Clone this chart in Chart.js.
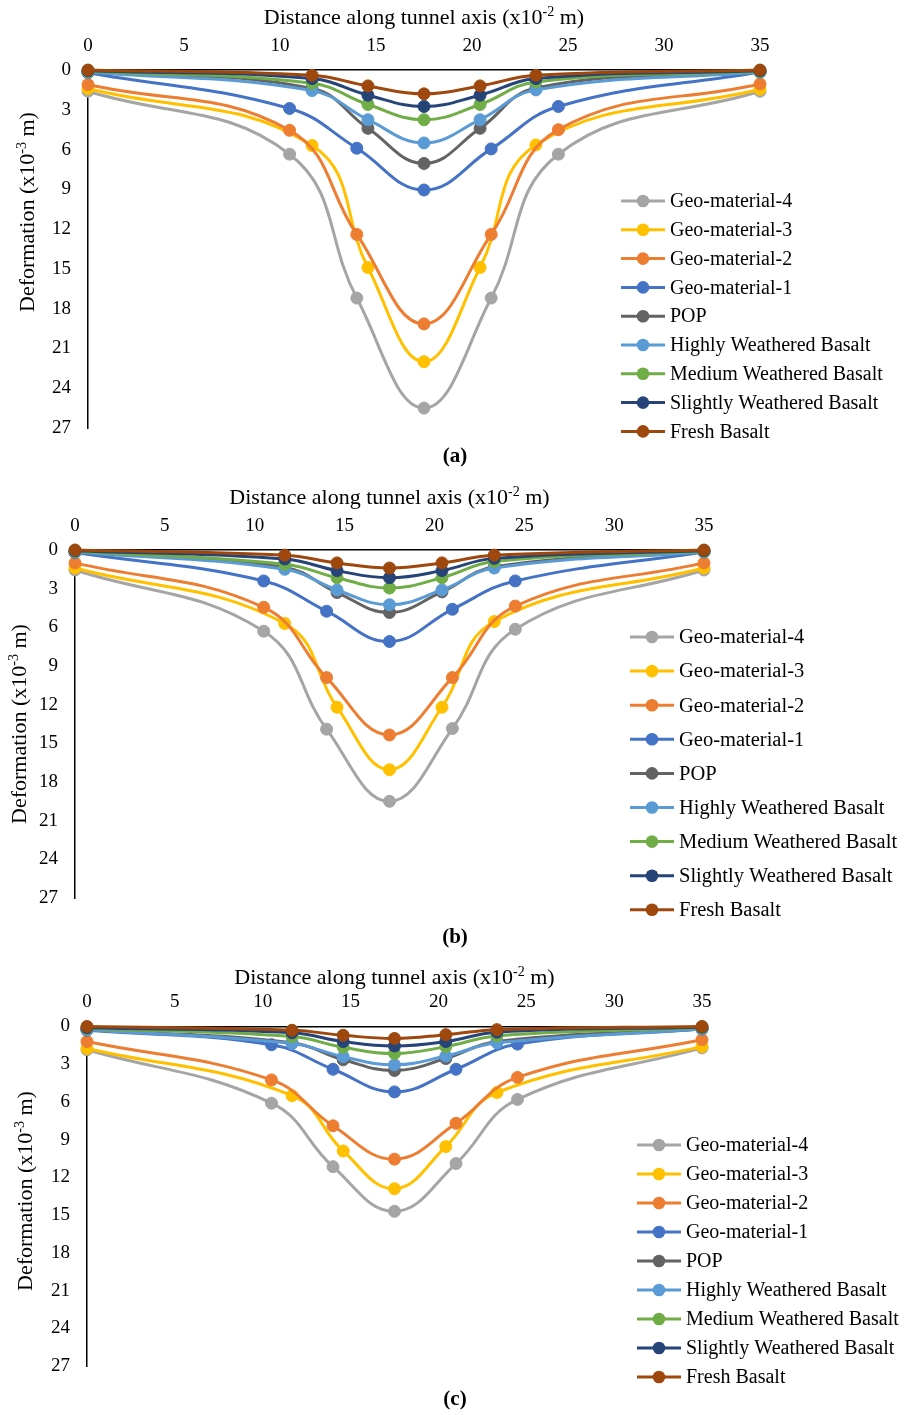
<!DOCTYPE html>
<html><head><meta charset="utf-8">
<script src="https://cdn.jsdelivr.net/npm/chart.js@4.4.1/dist/chart.umd.min.js"></script>
<style>
html,body{margin:0;padding:0;background:#fff;}
#wrap{position:relative;width:911px;height:1415px;background:#fff;}
canvas{position:absolute;left:0;}
</style></head><body>
<div id="wrap">
<canvas id="ca" style="top:0px" width="911" height="475"></canvas>
<canvas id="cb" style="top:475px" width="911" height="480"></canvas>
<canvas id="cc" style="top:955px" width="911" height="460"></canvas>
</div>
<script>
// ---------- data ----------
const seriesNames = ['Geo-material-4','Geo-material-3','Geo-material-2','Geo-material-1','POP',
  'Highly Weathered Basalt','Medium Weathered Basalt','Slightly Weathered Basalt','Fresh Basalt'];
const xTickValues = [0,5,10,15,20,25,30,35];
const yTickValues = [0,3,6,9,12,15,18,21,24,27];
// distance stations (x10^-2 m)
const xWide   = [0, 10.5, 14, 17.5, 21, 24.5, 35];
const xNarrow = [0, 11.67, 14.58, 17.5, 20.42, 23.33, 35];
const xOfSeries = [xWide, xNarrow, xWide, xWide, xNarrow, xNarrow, xNarrow, xNarrow, xNarrow];

// panel (a) deformation (x10^-3 m)
const a_geo4 = [1.6, 6.35, 17.2, 25.5, 17.2, 6.35, 1.6];
const a_geo3 = [1.4, 5.7, 14.9, 22.0, 14.9, 5.65, 1.45];
const a_geo2 = [1.1, 4.55, 12.4, 19.15, 12.4, 4.5, 1.05];
const a_geo1 = [0.2, 2.9, 5.9, 9.05, 5.95, 2.75, 0.15];
const a_pop  = [0.15, 1.4, 4.4, 7.05, 4.4, 1.35, 0.15];
const a_hwb  = [0.15, 1.55, 3.75, 5.5, 3.75, 1.5, 0.15];
const a_mwb  = [0.1, 1.0, 2.6, 3.75, 2.6, 0.9, 0.1];
const a_swb  = [0.05, 0.65, 1.9, 2.75, 1.9, 0.65, 0.05];
const a_fb   = [0, 0.4, 1.2, 1.8, 1.2, 0.4, 0];

// panel (b)
const b_geo4 = [1.55, 6.3, 13.9, 19.5, 13.85, 6.15, 1.55];
const b_geo3 = [1.4, 5.7, 12.2, 17.05, 12.2, 5.55, 1.4];
const b_geo2 = [1.0, 4.45, 9.9, 14.35, 9.9, 4.35, 1.0];
const b_geo1 = [0.2, 2.4, 4.75, 7.1, 4.6, 2.4, 0.15];
const b_pop  = [0.15, 1.35, 3.3, 4.85, 3.25, 1.3, 0.15];
const b_hwb  = [0.15, 1.5, 3.1, 4.25, 3.1, 1.4, 0.15];
const b_mwb  = [0.1, 1.1, 2.15, 2.95, 2.15, 0.9, 0.1];
const b_swb  = [0.05, 0.7, 1.6, 2.15, 1.6, 0.65, 0.05];
const b_fb   = [0, 0.4, 1.0, 1.4, 1.0, 0.4, 0];

// panel (c)
const c_geo4 = [1.85, 6.1, 11.15, 14.7, 10.9, 5.8, 1.7];
const c_geo3 = [1.75, 5.5, 9.9, 12.9, 9.55, 5.25, 1.6];
const c_geo2 = [1.2, 4.25, 7.9, 10.55, 7.7, 4.05, 1.05];
const c_geo1 = [0.3, 1.45, 3.4, 5.2, 3.4, 1.4, 0.2];
const c_pop  = [0.25, 1.3, 2.65, 3.5, 2.55, 1.2, 0.2];
const c_hwb  = [0.25, 1.35, 2.4, 3.05, 2.35, 1.3, 0.2];
const c_mwb  = [0.15, 0.8, 1.65, 2.15, 1.6, 0.75, 0.1];
const c_swb  = [0.1, 0.5, 1.2, 1.55, 1.2, 0.45, 0.05];
const c_fb   = [0, 0.3, 0.7, 0.95, 0.65, 0.25, 0];

const panelA = [a_geo4,a_geo3,a_geo2,a_geo1,a_pop,a_hwb,a_mwb,a_swb,a_fb];
const panelB = [b_geo4,b_geo3,b_geo2,b_geo1,b_pop,b_hwb,b_mwb,b_swb,b_fb];
const panelC = [c_geo4,c_geo3,c_geo2,c_geo1,c_pop,c_hwb,c_mwb,c_swb,c_fb];

// ---------- styles ----------
const seriesColors = ['#A5A5A5','#FFC000','#ED7D31','#4472C4','#636363','#5B9BD5','#70AD47','#264478','#9E480E'];
const SERIF = '"Liberation Serif", "Times New Roman", serif';

const layouts = [
  {id:'ca', panel:panelA, cap:'(a)', top:0,   h:475, L:88, R:760, T:70,    B:428,  xTitleY:17,  yTitleX:27, yTitleY:212,  legX:621, legY0:201,  legDy:28.8, legFont:20,   capY:457},
  {id:'cb', panel:panelB, cap:'(b)', top:475, h:480, L:75, R:704, T:550,   B:898,  xTitleY:497, yTitleX:19, yTitleY:724,  legX:630, legY0:637,  legDy:34.1, legFont:20.5, capY:938},
  {id:'cc', panel:panelC, cap:'(c)', top:955, h:460, L:87, R:702, T:1026.5,B:1366, xTitleY:977, yTitleX:25, yTitleY:1191, legX:637, legY0:1145, legDy:29,   legFont:20,   capY:1400}
];

function drawParts(ctx, parts, cx, cy, size) {
  const supSize = size * 0.64;
  let total = 0;
  parts.forEach(p => {
    ctx.font = (p.sup ? supSize : size) + 'px ' + SERIF;
    p.w = ctx.measureText(p.t).width; total += p.w;
  });
  let x = cx - total / 2;
  ctx.textAlign = 'left';
  ctx.textBaseline = 'alphabetic';
  const base = cy + size * 0.32;
  parts.forEach(p => {
    ctx.font = (p.sup ? supSize : size) + 'px ' + SERIF;
    ctx.fillText(p.t, x, p.sup ? base - size * 0.38 : base);
    x += p.w;
  });
}

const decorPlugin = {
  id: 'decor',
  afterDraw(chart) {
    const cfg = chart.options.plugins.decor;
    const ctx = chart.ctx;
    const off = cfg.top;
    ctx.save();
    ctx.fillStyle = '#000';
    // x axis title
    drawParts(ctx, [{t:'Distance along tunnel axis (x10'},{t:'-2',sup:true},{t:' m)'}],
      (cfg.L + cfg.R) / 2, cfg.xTitleY - off, 22);
    // y axis title
    ctx.save();
    ctx.translate(cfg.yTitleX, cfg.yTitleY - off);
    ctx.rotate(-Math.PI / 2);
    drawParts(ctx, [{t:'Deformation (x10'},{t:'-3',sup:true},{t:' m)'}], 0, 0, 22);
    ctx.restore();
    // legend
    seriesNames.forEach((name, i) => {
      const y = cfg.legY0 + i * cfg.legDy - off;
      ctx.strokeStyle = seriesColors[i];
      ctx.lineWidth = 3;
      ctx.beginPath(); ctx.moveTo(cfg.legX, y); ctx.lineTo(cfg.legX + 44, y); ctx.stroke();
      ctx.fillStyle = seriesColors[i];
      ctx.beginPath(); ctx.arc(cfg.legX + 22, y, 6.3, 0, Math.PI * 2); ctx.fill();
      ctx.fillStyle = '#000';
      ctx.font = cfg.legFont + 'px ' + SERIF;
      ctx.textAlign = 'left'; ctx.textBaseline = 'middle';
      ctx.fillText(name, cfg.legX + 49, y + 1);
    });
    // caption
    ctx.font = 'bold 21px ' + SERIF;
    ctx.textAlign = 'center'; ctx.textBaseline = 'middle';
    ctx.fillStyle = '#000';
    ctx.fillText(cfg.cap, 455, cfg.capY - off);
    ctx.restore();
  }
};

layouts.forEach(cfg => {
  const datasets = cfg.panel.map((vals, i) => ({
    label: seriesNames[i],
    data: vals.map((v, k) => ({x: xOfSeries[i][k], y: v})),
    showLine: true,
    tension: 0.42,
    borderColor: seriesColors[i],
    backgroundColor: seriesColors[i],
    pointBackgroundColor: seriesColors[i],
    pointBorderColor: seriesColors[i],
    borderWidth: 3,
    pointRadius: 6,
    pointBorderWidth: 1,
    clip: false,
    order: seriesNames.length - 1 - i
  }));
  new Chart(document.getElementById(cfg.id), {
    type: 'scatter',
    data: { datasets },
    options: {
      responsive: false,
      animation: false,
      devicePixelRatio: 1,
      layout: { padding: { left: 0, top: 0, right: 911 - cfg.R, bottom: cfg.top + cfg.h - cfg.B } },
      plugins: { legend: { display: false }, tooltip: { enabled: false }, decor: cfg },
      scales: {
        x: {
          type: 'linear', position: 'top', min: 0, max: 35,
          afterBuildTicks: s => { s.ticks = xTickValues.map(v => ({value: v})); },
          afterFit: s => { s.height = cfg.T - cfg.top; },
          grid: { display: false, drawTicks: false },
          border: { display: true, color: '#000', width: 1.5 },
          ticks: { color: '#000', font: { family: SERIF, size: 19 }, padding: 13, maxRotation: 0 }
        },
        y: {
          type: 'linear', reverse: true, min: 0, max: 27,
          afterBuildTicks: s => { s.ticks = yTickValues.map(v => ({value: v})); },
          afterFit: s => { s.width = cfg.L; },
          grid: { display: false, drawTicks: false },
          border: { display: true, color: '#000', width: 1.5 },
          ticks: { color: '#000', font: { family: SERIF, size: 19 }, padding: 17 }
        }
      }
    },
    plugins: [decorPlugin]
  });
});
</script>
</body></html>
